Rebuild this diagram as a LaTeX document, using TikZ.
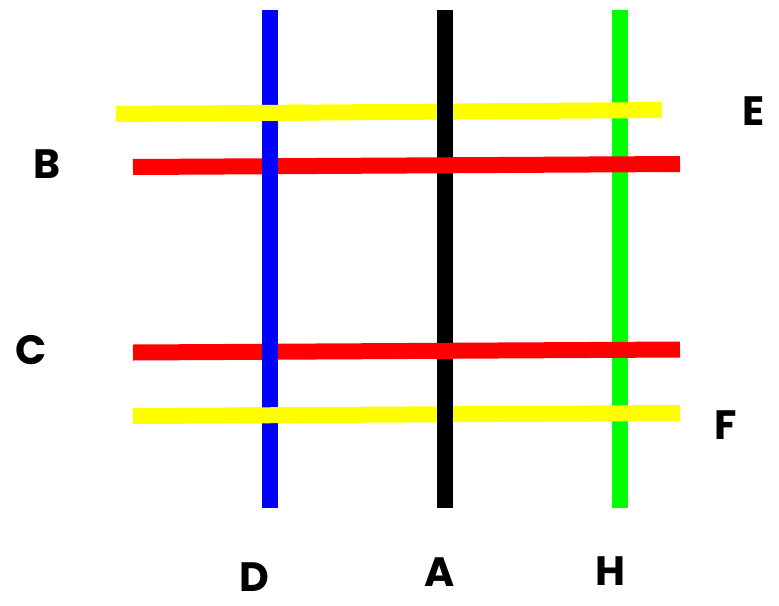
\documentclass[tikz,border=0pt]{standalone}
\usepackage{fontspec}
\setmainfont{Poppins}
\usetikzlibrary{calc}
\begin{document}
\begin{tikzpicture}[x=1pt,y=-1pt,
  bar/.style={line width=16pt,line cap=butt},
  lbl/.style={font=\fontsize{41}{41}\selectfont\bfseries,inner sep=0pt,anchor=center}]
\useasboundingbox[fill=white] (0,0) rectangle (779,605);
\definecolor{cblue}{RGB}{0,0,255}
\definecolor{cgreen}{RGB}{0,255,0}
\definecolor{cyellow}{RGB}{255,255,0}
\definecolor{cred}{RGB}{255,0,0}
% coordinates
\coordinate (g1) at (620,10); \coordinate (g2) at (620,508);
\coordinate (k1) at (445,10); \coordinate (k2) at (445,508);
\coordinate (b1) at (270,10); \coordinate (b2) at (270,508);
\coordinate (y1a) at (116,114); \coordinate (y1b) at (662,110);
\coordinate (r1a) at (133,167); \coordinate (r1b) at (680,164);
\coordinate (r2a) at (133,352.5); \coordinate (r2b) at (680,349.5);
\coordinate (y2a) at (133,416); \coordinate (y2b) at (680,413);
% green under everything
\draw[bar,cgreen] (g1) -- (g2);
% yellow
\draw[bar,cyellow] (y1a) -- (y1b);
\draw[bar,cyellow] (y2a) -- (y2b);
% black over yellow
\draw[bar,black] (k1) -- (k2);
% red over black and green
\draw[bar,cred] (r1a) -- (r1b);
\draw[bar,cred] (r2a) -- (r2b);
% blue over red
\draw[bar,cblue] (b1) -- (b2);
% yellow over blue (short segments)
\draw[bar,cyellow] ($(y1a)!0.25!(y1b)$) -- ($(y1a)!0.35!(y1b)$);
\draw[bar,cyellow] ($(y2a)!0.20!(y2b)$) -- ($(y2a)!0.30!(y2b)$);
% labels
\node[lbl] (B) at (47,164) {B};
\node[lbl] (C) at (31,350) {C};
\node[lbl] (E) at (754,111) {E};
\node[lbl] (F) at (726,425) {F};
\node[lbl] (D) at (254,577) {D};
\node[lbl] (A) at (440,572) {A};
\node[lbl] (H) at (610,571) {H};
\end{tikzpicture}
\end{document}
